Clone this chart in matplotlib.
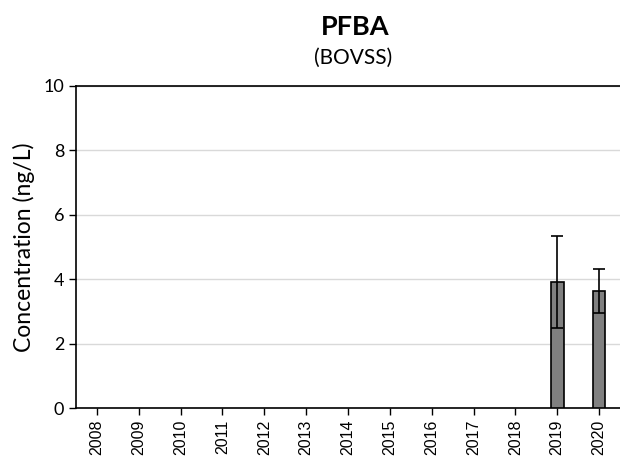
import matplotlib
matplotlib.use('Agg')
import matplotlib.pyplot as plt
import numpy as np

years = ['2008', '2009', '2010', '2011', '2012', '2013', '2014',
         '2015', '2016', '2017', '2018', '2019', '2020']
conc = [0, 0, 0, 0, 0, 0, 0, 0, 0, 0, 0, 3.91, 3.63]
err = [0, 0, 0, 0, 0, 0, 0, 0, 0, 0, 0, 1.44, 0.68]

fig = plt.figure(figsize=(6.2, 4.61), dpi=100)
ax = fig.add_axes([76 / 620, 53 / 461, 1 - 76 / 620, 322 / 461])

x = np.arange(len(years))
has = [i for i, v in enumerate(conc) if v > 0]
ax.bar(x[has], [conc[i] for i in has], width=0.3, color='#808080',
       edgecolor='black', linewidth=1.2, zorder=3)
ax.errorbar(x[has], [conc[i] for i in has], yerr=[err[i] for i in has],
            fmt='none', ecolor='black', elinewidth=1.2, capsize=4, capthick=1.2, zorder=4)

ax.set_xlim(-0.5, len(years) - 0.5)
ax.set_ylim(0, 10)
ax.set_yticks([0, 2, 4, 6, 8, 10])
ax.set_xticks(x)
ax.set_xticklabels(years, rotation=90, fontsize=11.5, family='Liberation Sans')
for lab in ax.get_yticklabels():
    lab.set_family('Lato')
    lab.set_fontsize(13)
ax.yaxis.grid(True, color='#d9d9d9', linewidth=1, zorder=0)
ax.spines['right'].set_visible(False)
ax.spines['top'].set_linewidth(1.2)
ax.spines['left'].set_linewidth(1.2)
ax.spines['bottom'].set_linewidth(1.2)
ax.tick_params(axis='both', direction='out', length=5, width=1)
ax.set_ylabel('Concentration (ng/L)', fontsize=16.5, family='Lato', labelpad=6)

fig.text(355 / 620, 1 - 27 / 461, 'PFBA', ha='center', va='center',
         fontsize=19.5, fontweight='bold', family='Lato')
fig.text(353 / 620, 1 - 58 / 461, '(BOVSS)', ha='center', va='center',
         fontsize=15, family='Lato')

fig.savefig('out.png', dpi=100)
